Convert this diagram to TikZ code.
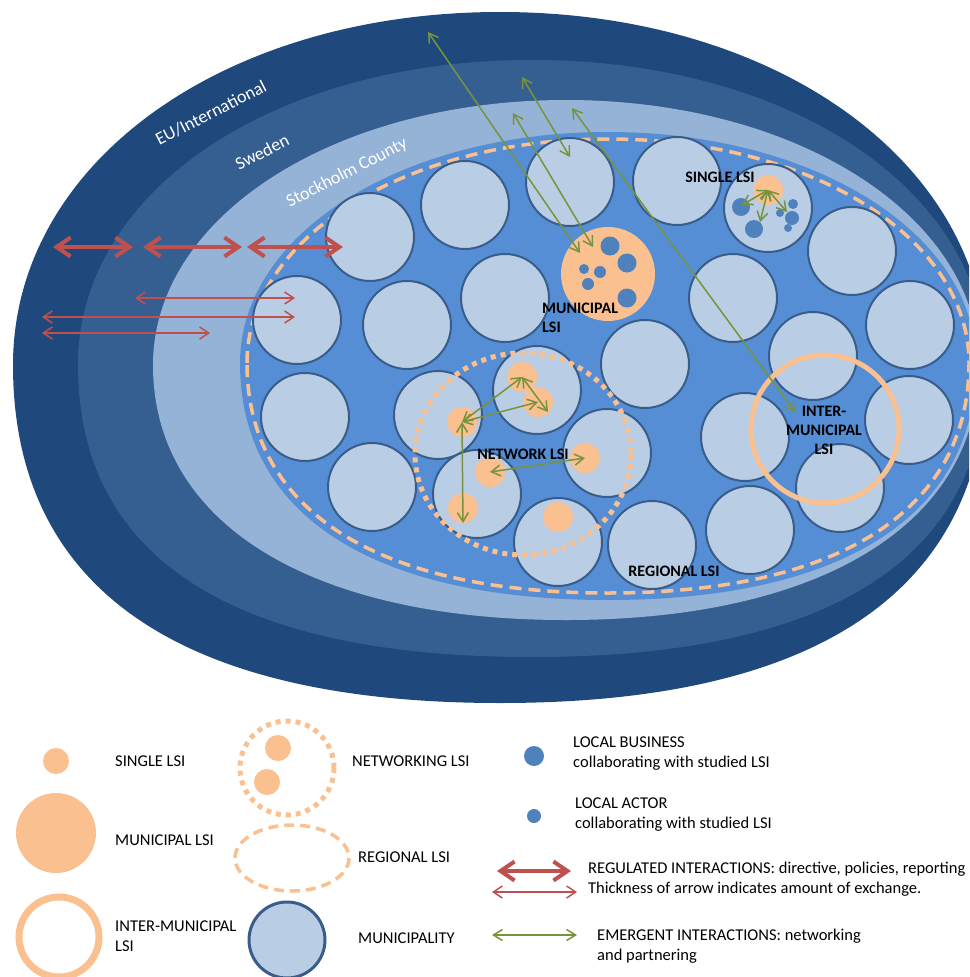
\documentclass[tikz,border=0pt]{standalone}
\usepackage{fontspec}
\setmainfont{Carlito}
\usetikzlibrary{arrows.meta}
\definecolor{eublue}{HTML}{1F497D}
\definecolor{swblue}{HTML}{365F91}
\definecolor{stblue}{HTML}{95B3D7}
\definecolor{rgblue}{HTML}{558ED5}
\definecolor{munifill}{HTML}{B9CDE5}
\definecolor{munidraw}{HTML}{385D8A}
\definecolor{lsiorange}{HTML}{FAC090}
\definecolor{actorblue}{HTML}{4F81BD}
\definecolor{regred}{HTML}{C0504D}
\definecolor{emgreen}{HTML}{77933C}
\newcommand{\layershape}[7]{%
 (#1-#3,#2) .. controls (#1-#3,#2-#6*#4) and (#1-#6*#3,#2-#4) .. (#1,#2-#4)
 .. controls (#1+#6*#3,#2-#4) and (#1+#3,#2-#6*#4) .. (#1+#3,#2)
 .. controls (#1+#3,#2+#7*#5) and (#1+#7*#3,#2+#5) .. (#1,#2+#5)
 .. controls (#1-#7*#3,#2+#5) and (#1-#3,#2+#7*#5) .. cycle}

\begin{document}
\begin{tikzpicture}[x=1pt,y=-1pt,
   muni/.style={circle,draw=munidraw,fill=munifill,line width=2pt,minimum size=88pt,inner sep=0pt},
   lsidot/.style={circle,fill=lsiorange,minimum size=30pt,inner sep=0pt},
   actor/.style={circle,fill=actorblue,inner sep=0pt},
   lbl/.style={font=\bfseries\fontsize{16}{19}\selectfont,align=center,inner sep=0pt},
   leg/.style={font=\fontsize{16.5}{20}\selectfont,align=left,anchor=west,inner sep=0pt},
   band/.style={font=\fontsize{18}{20}\selectfont,text=white,rotate=27,inner sep=0pt},
   regthick/.style={draw=regred,line width=4pt,>={Straight Barb[length=14pt,width=19pt]},<->},
   regthin/.style={draw=regred,line width=1.5pt,>={Straight Barb[length=9pt,width=12pt]},<->},
   emerg/.style={draw=emgreen,line width=1.5pt,>={Straight Barb[length=9pt,width=11pt]},<->}]
   \useasboundingbox (0,0) rectangle (969,977);
   \clip (0,0) rectangle (969,977);

   \fill[eublue] \layershape{500}{365}{487}{353}{338}{0.57}{0.66};
   \fill[swblue] \layershape{532}{365}{454}{305}{292}{0.57}{0.66};
   \fill[stblue] \layershape{566}{365}{413}{265}{255}{0.56}{0.62};
   \fill[rgblue] \layershape{608}{363}{368}{231}{237}{0.56}{0.64};
   \draw[lsiorange,line width=3.5pt,dash pattern=on 12pt off 7pt] \layershape{608}{363}{361}{224}{230}{0.56}{0.64};

   \path (211,113) node[band] (eu) {EU/International};
   \path (262,152) node[band] (se) {Sweden};
   \path (347,173) node[band] (sc) {Stockholm County};

   \path (370,237) node[muni] (m1) {};
   \path (465,205) node[muni] (m2) {};
   \path (570,182) node[muni] (m3) {};
   \path (677,181) node[muni] (m4) {};
   \path (768,208) node[muni] (m5) {};
   \path (852,251) node[muni] (m6) {};
   \path (910,325) node[muni] (m7) {};
   \path (297,320) node[muni] (m8) {};
   \path (407,325) node[muni] (m9) {};
   \path (505,298) node[muni] (m10) {};
   \path (733,298) node[muni] (m11) {};
   \path (645,364) node[muni] (m12) {};
   \path (813,356) node[muni] (m13) {};
   \path (909,420) node[muni] (m14) {};
   \path (305,417) node[muni] (m15) {};
   \path (372,487) node[muni] (m16) {};
   \path (438,415) node[muni] (m17) {};
   \path (537,390) node[muni] (m18) {};
   \path (607,453) node[muni] (m19) {};
   \path (477,494) node[muni] (m20) {};
   \path (558,542) node[muni] (m21) {};
   \path (652,545) node[muni] (m22) {};
   \path (745,437) node[muni] (m23) {};
   \path (750,530) node[muni] (m24) {};
   \path (840,488) node[muni] (m25) {};

   \path (608,274) node[lsidot,minimum size=94pt] (mlsi) {};
   \path (610,246) node[actor,minimum size=19pt] (mb1) {};
   \path (627,263) node[actor,minimum size=19pt] (mb2) {};
   \path (584,269) node[actor,minimum size=10pt] (mb3) {};
   \path (600,272) node[actor,minimum size=12pt] (mb4) {};
   \path (588,284) node[actor,minimum size=12pt] (mb5) {};
   \path (627,298) node[actor,minimum size=19pt] (mb6) {};

   \path (768,190) node[lsidot] (slsi) {};
   \path (741,207) node[actor,minimum size=18pt] (sb1) {};
   \path (754,229) node[actor,minimum size=18pt] (sb2) {};
   \path (793,204) node[actor,minimum size=10pt] (sb3) {};
   \path (792,218) node[actor,minimum size=14pt] (sb4) {};
   \path (780,213) node[actor,minimum size=8pt] (sb5) {};
   \path (788,228) node[actor,minimum size=8pt] (sb6) {};

   \path (522,377) node[lsidot] (n1) {};
   \path (538,402) node[lsidot] (n2) {};
   \path (462,422) node[lsidot] (n3) {};
   \path (490,472) node[lsidot] (n4) {};
   \path (585,458) node[lsidot] (n5) {};
   \path (463,508) node[lsidot] (n6) {};
   \path (558,517) node[lsidot] (n7) {};

   \draw[lsiorange,line width=5pt,dash pattern=on 5pt off 5pt] (523,454) ellipse [x radius=108,y radius=101];
   \path (825,429) node[circle,draw=lsiorange,line width=5pt,minimum size=148pt,inner sep=0pt] (imlsi) {};

   \path (720,177) node[lbl] (tsingle) {SINGLE LSI};
   \path (542,318) node[lbl,align=left,anchor=west] (tmuni) {MUNICIPAL\\LSI};
   \path (523,454) node[lbl] (tnet) {NETWORK LSI};
   \path (824,430) node[lbl] (tinter) {INTER-\\MUNICIPAL\\LSI};
   \path (674,571) node[lbl] (treg) {REGIONAL LSI};

   \coordinate (r1a) at (53,247);  \coordinate (r1b) at (133,247);
   \coordinate (r2a) at (143,247); \coordinate (r2b) at (242,247);
   \coordinate (r3a) at (247,247); \coordinate (r3b) at (343,247);
   \coordinate (r4a) at (135,298); \coordinate (r4b) at (295,298);
   \coordinate (r5a) at (42,317);  \coordinate (r5b) at (295,317);
   \coordinate (r6a) at (42,333);  \coordinate (r6b) at (210,333);
   \draw[regthick] (r1a) -- (r1b);
   \draw[regthick] (r2a) -- (r2b);
   \draw[regthick] (r3a) -- (r3b);
   \draw[regthin] (r4a) -- (r4b);
   \draw[regthin] (r5a) -- (r5b);
   \draw[regthin] (r6a) -- (r6b);

   \coordinate (g1a) at (428,32);  \coordinate (g1b) at (580,253);
   \coordinate (g2a) at (522,77);  \coordinate (g2b) at (570,157);
   \coordinate (g3a) at (513,113); \coordinate (g3b) at (593,247);
   \coordinate (g4a) at (572,108); \coordinate (g4b) at (795,412);
   \draw[emerg] (g1a) -- (g1b);
   \draw[emerg] (g2a) -- (g2b);
   \draw[emerg] (g3a) -- (g3b);
   \draw[emerg] (g4a) -- (g4b);

   \coordinate (st1) at (742,205);
   \coordinate (st2) at (760,222);
   \coordinate (st3) at (787,212);
   \draw[emerg] (slsi.center) -- (st1);
   \draw[emerg] (slsi.center) -- (st2);
   \draw[emerg] (slsi.center) -- (st3);

   \coordinate (nt1) at (548,412);
   \coordinate (nt2) at (463,523);
   \draw[emerg] (n3.center) -- (n1.center);
   \draw[emerg] (n3.center) -- (n2.center);
   \draw[emerg] (n1.center) -- (nt1);
   \draw[emerg] (n3.center) -- (nt2);
   \draw[emerg] (n4.center) -- (n5.center);

   \path (56,761) node[lsidot,minimum size=26pt] (lgsingle) {};
   \path (115,761) node[leg] (lgsinglet) {SINGLE LSI};
   \path (56,833) node[lsidot,minimum size=80pt] (lgmuni) {};
   \path (115,840) node[leg] (lgmunit) {MUNICIPAL LSI};
   \path (59,937) node[circle,draw=lsiorange,line width=7pt,minimum size=80pt,inner sep=0pt] (lginter) {};
   \path (115,936) node[leg] (lgintert) {INTER-MUNICIPAL\\LSI};

   \draw[lsiorange,line width=5pt,dash pattern=on 5pt off 5pt] (287,768) circle [radius=47];
   \path (278,748) node[lsidot,minimum size=26pt] (lgnet1) {};
   \path (267,782) node[lsidot,minimum size=26pt] (lgnet2) {};
   \path (352,761) node[leg] (lgnett) {NETWORKING LSI};
   \draw[lsiorange,line width=3.5pt,dash pattern=on 10pt off 6pt] (292,858) ellipse [x radius=57,y radius=33];
   \path (358,857) node[leg] (lgregt) {REGIONAL LSI};
   \path (287,940) node[circle,draw=munidraw,fill=munifill,line width=3pt,minimum size=76pt,inner sep=0pt] (lgmunic) {};
   \path (358,938) node[leg] (lgmunict) {MUNICIPALITY};

   \path (534,756) node[actor,minimum size=20pt] (lgbus) {};
   \path (573,754) node[leg] (lgbust) {LOCAL BUSINESS\\collaborating with studied LSI};
   \path (534,816) node[actor,minimum size=14pt] (lgact) {};
   \path (575,815) node[leg] (lgactt) {LOCAL ACTOR\\collaborating with studied LSI};

   \coordinate (lr1a) at (497,871); \coordinate (lr1b) at (571,871);
   \coordinate (lr2a) at (492,892); \coordinate (lr2b) at (577,892);
   \coordinate (lg1a) at (492,935); \coordinate (lg1b) at (577,935);
   \draw[regthick] (lr1a) -- (lr1b);
   \draw[regthin] (lr2a) -- (lr2b);
   \draw[emerg] (lg1a) -- (lg1b);
   \path (588,879) node[leg] (lgregi) {REGULATED INTERACTIONS: directive, policies, reporting\\Thickness of arrow indicates amount of exchange.};
   \path (597,946) node[leg] (lgemi) {EMERGENT INTERACTIONS: networking\\and partnering};
\end{tikzpicture}
\end{document}
